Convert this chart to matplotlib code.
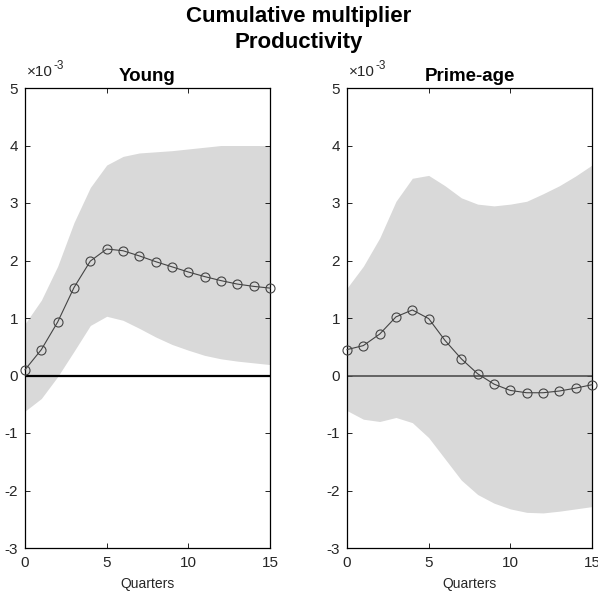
import matplotlib
matplotlib.use("Agg")
import matplotlib.pyplot as plt
import numpy as np

plt.rcParams["font.family"] = ["Liberation Sans", "DejaVu Sans"]
plt.rcParams["axes.unicode_minus"] = False

# values in units of 1e-3
quarters = np.arange(16)

young_mean = [0.10, 0.45, 0.93, 1.53, 1.99, 2.20, 2.17, 2.08, 1.98, 1.89,
              1.80, 1.72, 1.65, 1.59, 1.55, 1.52]
young_upper = [0.90, 1.31, 1.90, 2.66, 3.27, 3.66, 3.81, 3.87, 3.89, 3.91,
               3.94, 3.97, 4.00, 4.00, 4.00, 4.00]
young_lower = [-0.62, -0.40, -0.02, 0.42, 0.87, 1.03, 0.96, 0.82, 0.67, 0.54,
               0.44, 0.35, 0.29, 0.25, 0.22, 0.19]

prime_mean = [0.45, 0.52, 0.72, 1.02, 1.14, 0.99, 0.61, 0.29, 0.03, -0.15,
              -0.26, -0.30, -0.30, -0.27, -0.22, -0.16]
prime_upper = [1.52, 1.90, 2.39, 3.03, 3.43, 3.48, 3.30, 3.09, 2.98, 2.95,
               2.98, 3.03, 3.16, 3.30, 3.47, 3.66]
prime_lower = [-0.61, -0.76, -0.80, -0.73, -0.82, -1.08, -1.45, -1.82, -2.07, -2.22,
               -2.32, -2.38, -2.39, -2.36, -2.32, -2.28]

panels = [
    ("Young", young_mean, young_upper, young_lower, "black", 1.6),
    ("Prime-age", prime_mean, prime_upper, prime_lower, "#505050", 1.2),
]

TXT = "#262626"

fig = plt.figure(figsize=(5.98, 6.01), dpi=100)
fig.text(0.5, 1 - 22 / 601, "Cumulative multiplier", fontsize=16, fontweight="bold",
         ha="center", va="baseline", color="black")
fig.text(0.5, 1 - 48 / 601, "Productivity", fontsize=16, fontweight="bold",
         ha="center", va="baseline", color="black")

lefts = [25 / 598, 347 / 598]
for left, (title, mean, upper, lower, zcol, zlw) in zip(lefts, panels):
    ax = fig.add_axes([left, 1 - 548 / 601, 245 / 598, 460 / 601])
    ax.fill_between(quarters, lower, upper, color="#d9d9d9", lw=0, zorder=1)
    ax.axhline(0, color=zcol, lw=zlw, zorder=2)
    ax.plot(quarters, mean, color="#444444", lw=0.8, marker="o", ms=6.5,
            mfc="none", mec="#444444", mew=0.8, zorder=3, clip_on=False)
    ax.set_xlim(0, 15)
    ax.set_ylim(-3, 5)
    ax.set_xticks([0, 5, 10, 15])
    ax.set_yticks(range(-3, 6))
    ax.tick_params(direction="in", top=True, right=True, labelsize=11,
                   length=3.5, width=0.6, labelcolor=TXT)
    ax.tick_params(axis="x", pad=6)
    ax.tick_params(axis="y", pad=5)
    for s in ax.spines.values():
        s.set_linewidth(0.9)
    ax.set_xlabel("Quarters", fontsize=10, color=TXT, labelpad=5)
    ax.set_title(title, fontsize=13.5, fontweight="bold", pad=5)
    ax.annotate("\u00d710", xy=(0, 1), xycoords="axes fraction",
                xytext=(1.5, 9), textcoords="offset points", fontsize=11,
                ha="left", va="baseline", color=TXT)
    ax.annotate("-3", xy=(0, 1), xycoords="axes fraction",
                xytext=(20.5, 13.5), textcoords="offset points", fontsize=8.5,
                ha="left", va="baseline", color=TXT)

fig.savefig("out.png", dpi=100)
